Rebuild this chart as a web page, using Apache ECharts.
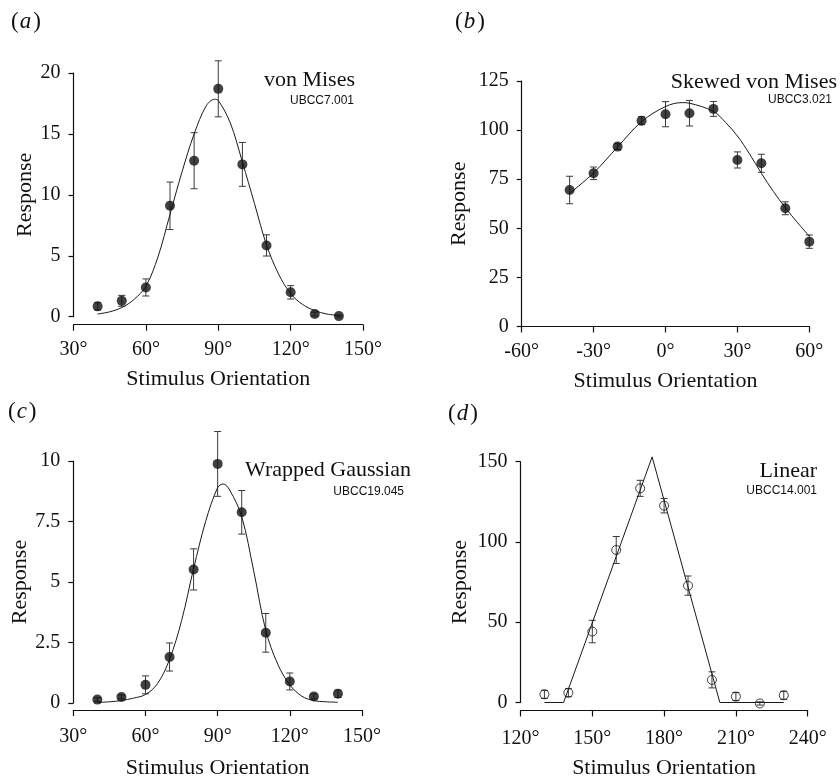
<!DOCTYPE html>
<html>
<head>
<meta charset="utf-8">
<script src="https://cdn.jsdelivr.net/npm/echarts@6.0.0/dist/echarts.min.js"></script>
<style>
  html, body { margin: 0; padding: 0; background: #fff; }
  #chart { width: 840px; height: 780px; }
</style>
</head>
<body>
<div id="chart"></div>
<script>
// (a) von Mises - UBCC7.001
const aAngle = [40, 50, 60, 70, 80, 90, 100, 110, 120, 130, 140];
const aResp = [0.85, 1.3, 2.4, 9.1, 12.8, 18.7, 12.5, 5.85, 2.0, 0.22, 0.05];
const aErr = [0.3, 0.45, 0.7, 1.95, 2.3, 2.3, 1.8, 0.87, 0.55, 0.15, 0.08];
const aFitX = [40, 45, 50, 55, 60, 65, 70, 75, 80, 85, 88.4, 90, 95, 100, 105, 110, 115, 120, 125, 130, 135, 140];
const aFitY = [0.22, 0.4, 0.75, 1.4, 2.5, 4.9, 8.4, 11.9, 15.0, 17.3, 17.84, 17.75, 15.9, 12.7, 9.3, 5.9, 3.5, 1.9, 1.0, 0.5, 0.22, 0.1];
const aXTicks = [30, 60, 90, 120, 150];
const aYTicks = [0, 5, 10, 15, 20];

// (b) skewed von Mises - UBCC3.021
const bAngle = [-40, -30, -20, -10, 0, 10, 20, 30, 40, 50, 60];
const bResp = [69.5, 78, 91.6, 104.8, 108.1, 108.6, 110.8, 84.8, 83.1, 60.2, 43.2];
const bErr = [7, 3.2, 1.5, 2, 6.4, 6.5, 3.8, 4.1, 4.6, 3.3, 3.4];
const bFitX = [-40, -30, -20, -10, 0, 7, 10, 20, 25, 30, 35, 40, 45, 50, 55, 60];
const bFitY = [67.8, 78.2, 91.4, 104.3, 112, 114, 113.7, 109.5, 104, 97, 88, 78, 68.8, 60.5, 53, 46];
const bXTicks = [-60, -30, 0, 30, 60];
const bYTicks = [0, 25, 50, 75, 100, 125];

// (c) wrapped Gaussian - UBCC19.045
const cAngle = [40, 50, 60, 70, 80, 90, 100, 110, 120, 130, 140];
const cResp = [0.14, 0.25, 0.75, 1.9, 5.52, 9.88, 7.88, 2.9, 0.89, 0.27, 0.38];
const cErr = [0.08, 0.08, 0.37, 0.58, 0.85, 1.34, 0.9, 0.8, 0.35, 0.1, 0.15];
const cFitX = [40, 45, 50, 55, 60, 65, 70, 75, 80, 85, 90, 92.3, 95, 100, 105, 110, 115, 120, 125, 130, 135, 140];
const cFitY = [0.02, 0.05, 0.1, 0.2, 0.35, 0.8, 1.8, 3.4, 5.55, 7.5, 8.9, 9.05, 8.8, 7.7, 5.45, 3.0, 1.6, 0.75, 0.28, 0.1, 0.05, 0.03];
const cXTicks = [30, 60, 90, 120, 150];
const cYTicks = [0, 2.5, 5, 7.5, 10];

// (d) linear - UBCC14.001
const dAngle = [130, 140, 150, 160, 170, 180, 190, 200, 210, 220, 230];
const dResp = [5.1, 6.1, 44.2, 95, 133.4, 122.6, 72.8, 14.1, 3.7, -0.6, 4.5];
const dErr = [2.5, 2.5, 7, 8.4, 5, 4.5, 6, 5, 2.5, 1, 2.5];
const dFitX = [130, 138, 175, 203.3, 230];
const dFitY = [0, 0, 153, 0, 0];
const dXTicks = [120, 150, 180, 210, 240];
const dYTicks = [0, 50, 100, 150];

const serif = "'Liberation Serif', 'Times New Roman', serif";
const sans = "'Liberation Sans', Arial, sans-serif";
const ink = '#111';

const panels = [
  { angle: aAngle, resp: aResp, err: aErr, fitX: aFitX, fitY: aFitY, xt: aXTicks, yt: aYTicks, smooth: true, open: false,
    grid: { left: 73.5, top: 73, width: 289.5, height: 243.7 }, offset: 8, yGap: 37, xGap: 43.5, xMargin: 15 },
  { angle: bAngle, resp: bResp, err: bErr, fitX: bFitX, fitY: bFitY, xt: bXTicks, yt: bYTicks, smooth: true, open: false,
    grid: { left: 521.7, top: 81, width: 287.6, height: 245.5 }, offset: 0, yGap: 51, xGap: 43.5, xMargin: 15 },
  { angle: cAngle, resp: cResp, err: cErr, fitX: cFitX, fitY: cFitY, xt: cXTicks, yt: cYTicks, smooth: true, open: false,
    grid: { left: 73.3, top: 461, width: 288.7, height: 244 }, offset: 7, yGap: 42, xGap: 47, xMargin: 17 },
  { angle: dAngle, resp: dResp, err: dErr, fitX: dFitX, fitY: dFitY, xt: dXTicks, yt: dYTicks, smooth: false, open: true,
    grid: { left: 520.5, top: 461.7, width: 287.2, height: 244.3 }, offset: 8, yGap: 49.5, xGap: 46.5, xMargin: 18 }
];

const axisLine = { show: true, onZero: false, lineStyle: { color: ink, width: 1.2 } };

function errorBars(params, api) {
  const x = api.value(0);
  const lo = api.coord([x, api.value(1)]);
  const hi = api.coord([x, api.value(2)]);
  const w = 3.5;
  const style = { stroke: '#3a3a3a', lineWidth: 1 };
  return {
    type: 'group',
    children: [
      { type: 'line', shape: { x1: lo[0], y1: lo[1], x2: hi[0], y2: hi[1] }, style },
      { type: 'line', shape: { x1: lo[0] - w, y1: lo[1], x2: lo[0] + w, y2: lo[1] }, style },
      { type: 'line', shape: { x1: hi[0] - w, y1: hi[1], x2: hi[0] + w, y2: hi[1] }, style }
    ]
  };
}

const grid = panels.map((p) => p.grid);

const xAxis = panels.map((p, i) => ({
  gridIndex: i,
  type: 'value',
  min: p.xt[0],
  max: p.xt[p.xt.length - 1],
  interval: p.xt[1] - p.xt[0],
  offset: p.offset,
  name: 'Stimulus Orientation',
  nameLocation: 'middle',
  nameGap: p.xGap,
  nameTextStyle: { fontFamily: serif, fontSize: 22, color: ink },
  axisLine,
  axisTick: { show: true, length: 6, lineStyle: { color: ink, width: 1.2 } },
  axisLabel: { margin: p.xMargin, fontFamily: serif, fontSize: 20, color: ink, formatter: (v) => v + '°' },
  splitLine: { show: false }
}));

const yAxis = panels.map((p, i) => ({
  gridIndex: i,
  type: 'value',
  min: p.yt[0],
  max: p.yt[p.yt.length - 1],
  interval: p.yt[1] - p.yt[0],
  name: 'Response',
  nameLocation: 'middle',
  nameGap: p.yGap,
  nameTextStyle: { fontFamily: serif, fontSize: 22, color: ink },
  axisLine,
  axisTick: { show: true, length: 5, lineStyle: { color: ink, width: 1.2 } },
  axisLabel: { margin: 13, fontFamily: serif, fontSize: 20, color: ink },
  splitLine: { show: false }
}));

const series = [];
panels.forEach((p, i) => {
  series.push({
    type: 'custom',
    xAxisIndex: i,
    yAxisIndex: i,
    clip: false,
    renderItem: errorBars,
    data: p.angle.map((a, k) => [a, p.resp[k] - p.err[k], p.resp[k] + p.err[k]]),
    z: 2
  });
  series.push({
    type: 'line',
    xAxisIndex: i,
    yAxisIndex: i,
    smooth: p.smooth ? 0.35 : false,
    showSymbol: false,
    clip: false,
    lineStyle: { color: '#1a1a1a', width: 1 },
    data: p.fitX.map((x, k) => [x, p.fitY[k]]),
    z: 3
  });
  series.push({
    type: 'scatter',
    xAxisIndex: i,
    yAxisIndex: i,
    clip: false,
    symbol: 'circle',
    symbolSize: p.open ? 9 : 10,
    itemStyle: p.open
      ? { color: 'rgba(255,255,255,0)', borderColor: ink, borderWidth: 1 }
      : { color: ink },
    data: p.angle.map((a, k) => [a, p.resp[k]]),
    z: 4
  });
});

function panelLabel(letter, x, y) {
  return {
    type: 'text', x, y,
    style: {
      text: '{p|(}{i|' + letter + '}{p|)}',
      rich: {
        p: { fontFamily: serif, fontSize: 23, fill: ink, color: ink },
        i: { fontFamily: serif, fontSize: 23, fontStyle: 'italic', fill: ink, color: ink, padding: [0, 2, 0, 1] }
      },
      align: 'left', textAlign: 'left', verticalAlign: 'middle', textVerticalAlign: 'middle'
    }
  };
}

function note(text, x, y, size, family) {
  return {
    type: 'text', x, y,
    style: {
      text, fill: ink, font: size + 'px ' + family,
      align: 'right', textAlign: 'right', verticalAlign: 'middle', textVerticalAlign: 'middle'
    }
  };
}

const graphic = [
  panelLabel('a', 11, 22),
  panelLabel('b', 455, 22),
  panelLabel('c', 8, 412),
  panelLabel('d', 448, 414),
  note('von Mises', 355, 80, 22, serif),
  note('UBCC7.001', 354, 101, 12, sans),
  note('Skewed von Mises', 837, 82, 22, serif),
  note('UBCC3.021', 832, 100, 12, sans),
  note('Wrapped Gaussian', 411, 470, 22, serif),
  note('UBCC19.045', 404, 492, 12, sans),
  note('Linear', 817, 471, 22, serif),
  note('UBCC14.001', 817, 491, 12, sans)
];

const chart = echarts.init(document.getElementById('chart'), null, { renderer: 'canvas' });
chart.setOption({
  backgroundColor: '#fff',
  animation: false,
  grid,
  xAxis,
  yAxis,
  series,
  graphic
});
</script>
</body>
</html>
